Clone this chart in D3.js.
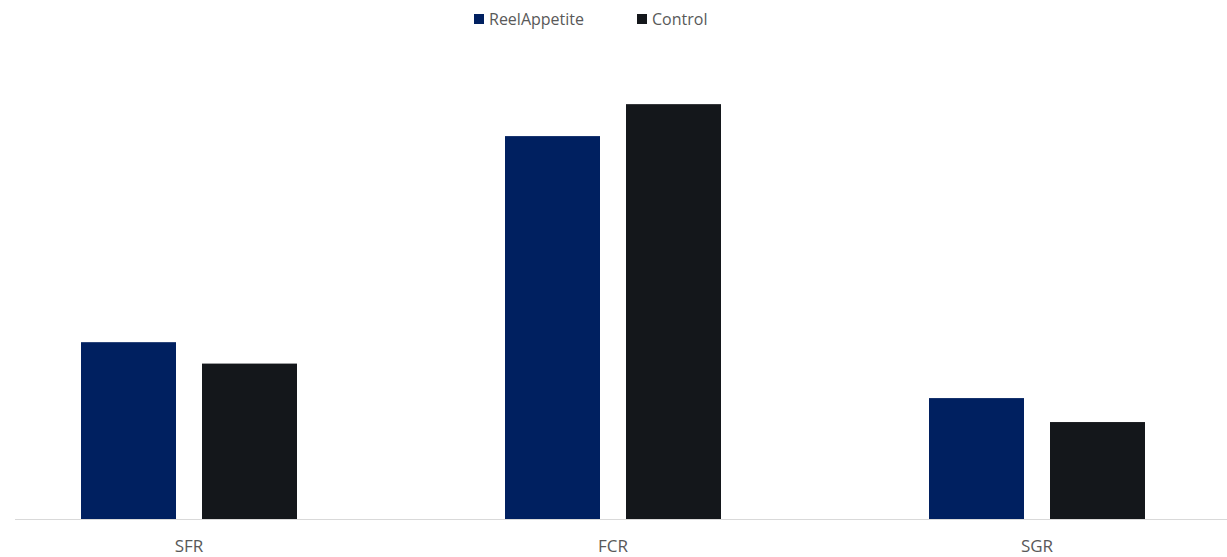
<!DOCTYPE html>
<html>
<head>
<meta charset="utf-8">
<script src="https://cdn.jsdelivr.net/npm/d3@7"></script>
<style>
  html, body { margin: 0; padding: 0; background: #ffffff; }
  svg { display: block; }
  text { font-family: "Open Sans", "Noto Sans", sans-serif; fill: #595959; }
</style>
</head>
<body>
<svg id="chart" width="1227" height="557"></svg>
<script>
// Feeding trial metrics per group
const categories = ["SFR", "FCR", "SGR"];
const seriesNames = ["ReelAppetite", "Control"];
const reelAppetite = [0.555, 1.2, 0.38];
const control = [0.488, 1.3, 0.305];
const seriesColors = ["#002060", "#14171b"];

const W = 1227, H = 557;
const baseY = 519.5;
const svg = d3.select("#chart");

const rows = categories.map((c, i) => ({ cat: c, values: [reelAppetite[i], control[i]] }));

const x0 = d3.scaleBand()
  .domain(categories)
  .range([-23, 1249])
  .paddingInner(0.4906)
  .paddingOuter(0.2453);

const x1 = d3.scaleBand()
  .domain(seriesNames)
  .range([0, x0.bandwidth()])
  .paddingInner(0.2149);

const y = d3.scaleLinear()
  .domain([0, 1.4])
  .range([baseY, 72.2]);

const color = d3.scaleOrdinal().domain(seriesNames).range(seriesColors);

// Bars
const groups = svg.append("g").selectAll("g")
  .data(rows)
  .join("g")
  .attr("transform", d => `translate(${x0(d.cat)},0)`);

groups.selectAll("rect")
  .data(d => seriesNames.map((s, j) => ({ s, v: d.values[j] })))
  .join("rect")
  .attr("x", d => x1(d.s))
  .attr("width", x1.bandwidth())
  .attr("y", d => y(d.v))
  .attr("height", d => y(0) - y(d.v))
  .attr("fill", d => color(d.s));

// Category axis
const xAxis = d3.axisBottom(x0).tickSize(0).tickPadding(0);
const axisG = svg.append("g")
  .attr("transform", `translate(0,${baseY})`)
  .call(xAxis);
axisG.select(".domain").remove();
axisG.selectAll("text")
  .attr("dy", null)
  .attr("y", 32.5)
  .style("font-size", "17px")
  .style("font-family", "'Open Sans', sans-serif")
  .attr("fill", "#595959");

svg.append("line")
  .attr("x1", 15).attr("x2", W)
  .attr("y1", baseY).attr("y2", baseY)
  .attr("stroke", "#d9d9d9")
  .attr("stroke-width", 1);

// Legend
const legendX = [474, 637];
const legend = svg.append("g").selectAll("g")
  .data(seriesNames)
  .join("g")
  .attr("transform", (d, i) => `translate(${legendX[i]},14)`);
legend.append("rect")
  .attr("width", 10).attr("height", 10)
  .attr("fill", d => color(d));
legend.append("text")
  .attr("x", 15).attr("y", 11)
  .style("font-size", "16px")
  .text(d => d);
</script>
</body>
</html>
